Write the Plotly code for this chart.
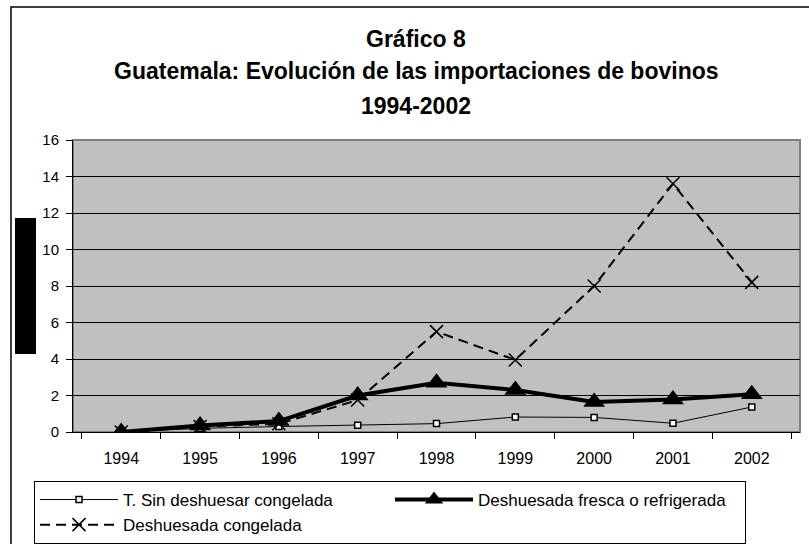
import plotly.graph_objects as go

years = ["1994", "1995", "1996", "1997", "1998", "1999", "2000", "2001", "2002"]
sin_deshuesar = [0.0, 0.2, 0.3, 0.37, 0.46, 0.82, 0.8, 0.48, 1.37]
fresca_refrig = [0.0, 0.35, 0.6, 2.0, 2.7, 2.3, 1.65, 1.78, 2.07]
desh_congelada = [0.0, 0.3, 0.45, 1.75, 5.5, 3.95, 8.0, 13.6, 8.2]

names = ["T. Sin deshuesar congelada", "Deshuesada fresca o refrigerada", "Deshuesada congelada"]
title_lines = ["Gráfico 8", "Guatemala: Evolución de las importaciones de bovinos", "1994-2002"]

W, H = 809, 544
L, R, T, B = 73, 800, 140, 432
def xp(px):
    return (px - L) / (R - L)
def yp(py):
    return (B - py) / (B - T)

FONT = "Liberation Sans, Arial, sans-serif"

fig = go.Figure()
fig.add_trace(go.Scatter(
    x=years, y=sin_deshuesar, name=names[0], mode="lines+markers",
    line=dict(color="black", width=1),
    marker=dict(symbol="square", size=6, color="white", line=dict(color="black", width=1.5)),
))
fig.add_trace(go.Scatter(
    x=years, y=fresca_refrig, name=names[1], mode="lines+markers",
    line=dict(color="black", width=4),
    marker=dict(symbol="triangle-up", size=19, color="black"),
))
fig.add_trace(go.Scatter(
    x=years, y=desh_congelada, name=names[2], mode="lines+markers",
    line=dict(color="black", width=2, dash="10px,6px"),
    marker=dict(symbol="x-thin", size=13, color="black", line=dict(color="black", width=1.5)),
))

shapes = [
    # outer chart border
    dict(type="rect", xref="paper", yref="paper", x0=xp(11), x1=xp(812), y0=yp(550), y1=yp(7),
         line=dict(color="black", width=1.5), fillcolor="rgba(0,0,0,0)", layer="below"),
    # plot area border
    dict(type="rect", xref="paper", yref="paper", x0=0, x1=1, y0=0, y1=1,
         line=dict(color="#808080", width=2), fillcolor="rgba(0,0,0,0)", layer="below"),
    # black box at left (redacted axis title)
    dict(type="rect", xref="paper", yref="paper", x0=xp(15), x1=xp(36), y0=yp(354), y1=yp(218),
         line=dict(width=0), fillcolor="black", layer="below"),
]

title_y = [39, 71, 106]
annotations = [
    dict(text="<b>%s</b>" % t, xref="paper", yref="paper", x=xp(416), y=yp(py),
         xanchor="center", yanchor="middle", showarrow=False,
         font=dict(family=FONT, size=23, color="black"))
    for t, py in zip(title_lines, title_y)
]

fig.update_layout(
    width=W, height=H,
    margin=dict(l=L, r=W - R, t=T, b=H - B),
    paper_bgcolor="white",
    plot_bgcolor="#C0C0C0",
    font=dict(family=FONT, size=16, color="black"),
    showlegend=True,
    legend=dict(
        orientation="h", xref="container", yref="container",
        x=34 / W, y=1 - 481 / H, xanchor="left", yanchor="top",
        bordercolor="black", borderwidth=1, bgcolor="white",
        font=dict(family=FONT, size=17, color="black"),
        itemwidth=78, entrywidth=262, entrywidthmode="pixels",
        traceorder="normal", itemsizing="trace",
    ),
    shapes=shapes,
    annotations=annotations,
)
fig.update_xaxes(
    type="category", showgrid=False, showline=True, linecolor="black", linewidth=1,
    ticks="outside", tickson="boundaries", ticklen=6, tickcolor="black",
    tickfont=dict(family=FONT, size=16), zeroline=False, ticklabelstandoff=12,
)
fig.update_yaxes(
    range=[0, 16], dtick=2, showgrid=True, gridcolor="black", gridwidth=1,
    showline=True, linecolor="black", linewidth=1, ticks="outside", ticklen=6,
    tickcolor="black", tickfont=dict(family=FONT, size=15), zeroline=False,
    ticklabelstandoff=4,
)

fig.write_html("out.html", config={"displayModeBar": False},
               post_script="document.body.style.margin='0';")
